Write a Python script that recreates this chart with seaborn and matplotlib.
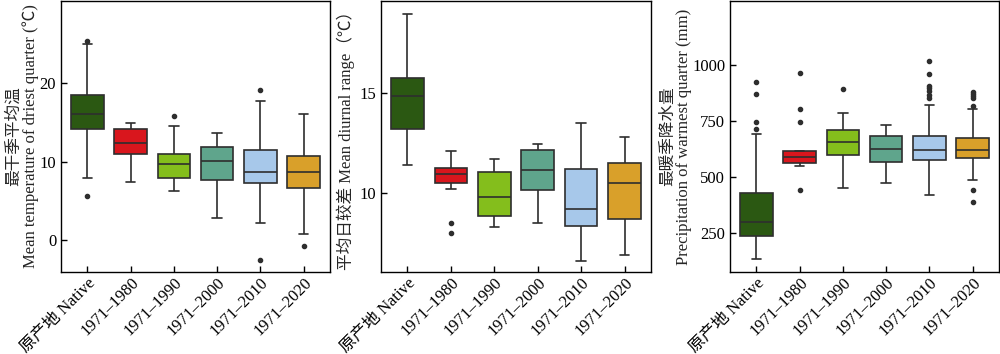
import pandas as pd
import seaborn as sns
import matplotlib.pyplot as plt

# --- 1. 数据（从原图读取的箱线图五数与离群点）---
groups = ['原产地 Native', '1971–1980', '1971–1990', '1971–2000', '1971–2010', '1971–2020']
colors = ['#2b5812', '#d9161d', '#84be1c', '#5fa58c', '#a7c8ea', '#d9a02a']

# 最干季平均温 (℃)
t_lo = [7.9, 7.4, 6.2, 2.75, 2.2, 0.7]
t_q1 = [14.1, 11.0, 7.85, 7.6, 7.2, 6.65]
t_med = [16.05, 12.4, 9.7, 10.1, 8.7, 8.7]
t_q3 = [18.5, 14.1, 10.9, 11.8, 11.45, 10.75]
t_hi = [25.0, 14.9, 14.5, 13.6, 17.7, 16.0]
t_out = [[5.6, 25.4], [], [15.8], [], [-2.6, 19.1], [-0.76]]

# 平均日较差 (℃)
d_lo = [11.4, 10.2, 8.29, 8.5, 6.59, 6.89]
d_q1 = [13.2, 10.5, 8.83, 10.15, 8.31, 8.68]
d_med = [14.81, 10.91, 9.78, 11.11, 9.2, 10.5]
d_q3 = [15.71, 11.21, 11.05, 12.14, 11.18, 11.47]
d_hi = [18.9, 12.1, 11.68, 12.41, 13.5, 12.79]
d_out = [[], [8.0, 8.5], [], [], [], []]

# 最暖季降水量 (mm)
p_lo = [135, 550, 452, 476, 423, 487]
p_q1 = [240, 562, 601, 568, 575, 585]
p_med = [302, 589, 658, 627, 621, 621]
p_q3 = [428, 617, 710, 683, 682, 676]
p_hi = [694, 617, 786, 734, 824, 805]
p_out = [[715, 746, 872, 925], [445, 746, 802, 963], [892], [],
         [852, 867, 886, 898, 908, 960, 1018], [389, 445, 818, 851, 861, 872, 882]]


def build_sample(lo, q1, med, q3, hi, out):
    """用读出的数值拼一组样本（共 4k+1 个），使线性分位数恰好落在 q1/med/q3 上。"""
    low = sorted(v for v in out if v < q1)
    high = sorted(v for v in out if v > q3)
    k = max(len(low), len(high)) + 1
    return (low + [lo] * (k - len(low)) + [q1] * k + [med]
            + [q3] * k + [hi] * (k - len(high)) + high)


def make_frame(lo, q1, med, q3, hi, out):
    rows = []
    for i, g in enumerate(groups):
        for v in build_sample(lo[i], q1[i], med[i], q3[i], hi[i], out[i]):
            rows.append({'group': g, 'value': v})
    return pd.DataFrame(rows)


panels = [
    (make_frame(t_lo, t_q1, t_med, t_q3, t_hi, t_out),
     '最干季平均温\nMean temperature of driest quarter (℃)',
     [0, 10, 20], (-4.1, 30.5), [0.061, 0.269], -0.08),
    (make_frame(d_lo, d_q1, d_med, d_q3, d_hi, d_out),
     '平均日较差 Mean diurnal range（℃）',
     [10, 15], (6.03, 19.58), [0.381, 0.270], -0.095),
    (make_frame(p_lo, p_q1, p_med, p_q3, p_hi, p_out),
     '最暖季降水量\nPrecipitation of warmest quarter (mm)',
     [250, 500, 750, 1000], (78, 1286), [0.730, 0.269], -0.14),
]

# --- 2. 绘图 ---
sns.set_style('ticks')
plt.rcParams['font.family'] = ['Liberation Serif', 'Noto Sans CJK SC', 'DejaVu Sans']
plt.rcParams['font.size'] = 12
plt.rcParams['axes.unicode_minus'] = False

fig = plt.figure(figsize=(10, 3.54), dpi=100)
line_c = '#2e2e2e'

for df, ylabel, yticks, ylim, (left, width), lab_x in panels:
    ax = fig.add_axes([left, 0.2316, width, 0.766])
    sns.boxplot(data=df, x='group', y='value', hue='group', order=groups,
                hue_order=groups, palette=colors, saturation=1, legend=False,
                width=0.75, linecolor=line_c, linewidth=1.2, whis=1.5,
                capwidths=0.22,
                flierprops=dict(marker='o', markerfacecolor=line_c,
                                markeredgecolor=line_c, markersize=3),
                ax=ax)
    ax.set_xlim(-0.61, 5.61)
    ax.set_ylim(*ylim)
    ax.set_yticks(yticks)
    ax.set_xlabel('')
    ax.set_ylabel(ylabel, fontsize=12, linespacing=1.05)
    ax.yaxis.set_label_coords(lab_x, 0.5)
    ax.tick_params(direction='in', length=4, width=1, colors='black',
                   labelsize=12, top=False, right=False)
    ax.tick_params(axis='x', pad=2)
    ax.set_xticks(range(len(groups)))
    ax.set_xticklabels(groups, rotation=45, ha='right', rotation_mode='anchor')
    for s in ax.spines.values():
        s.set_visible(True)
        s.set_color('black')
        s.set_linewidth(1.0)

fig.savefig('out.png', dpi=100)
